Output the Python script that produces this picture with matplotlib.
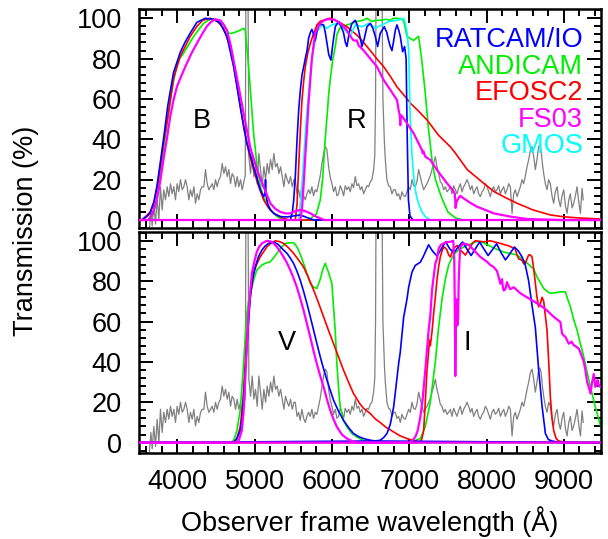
import matplotlib.pyplot as plt
import numpy as np
from matplotlib.ticker import MultipleLocator

plt.rcParams['font.family'] = ['Liberation Sans', 'DejaVu Sans']

# ---- data (wavelength in Angstrom, transmission in %) ----
# object spectrum (scaled), same in both panels
spec_wl = [3640, 3660, 3677, 3698, 3720, 3741, 3763, 3784, 3806, 3827, 3849, 3871, 3892, 3914, 3935, 3957,
           3978, 4000, 4021, 4043, 4065, 4086, 4108, 4129, 4151, 4172, 4194, 4216, 4237, 4259, 4280, 4302,
           4323, 4345, 4366, 4388, 4410, 4431, 4453, 4474, 4496, 4517, 4539, 4560, 4582, 4604, 4625, 4647,
           4668, 4690, 4711, 4733, 4755, 4776, 4798, 4819, 4841, 4862, 4880, 4893, 4905, 4915, 4927, 4949,
           4970, 4992, 5013, 5035, 5056, 5078, 5099, 5121, 5143, 5164, 5186, 5207, 5229, 5250, 5272, 5294,
           5315, 5337, 5358, 5380, 5401, 5423, 5444, 5466, 5488, 5510, 5527, 5550, 5570, 5590, 5613, 5635,
           5656, 5678, 5699, 5720, 5742, 5763, 5785, 5806, 5828, 5850, 5872, 5893, 5915, 5936, 5958, 5980,
           6001, 6022, 6044, 6066, 6087, 6109, 6130, 6152, 6173, 6195, 6217, 6238, 6260, 6281, 6303, 6325,
           6346, 6368, 6389, 6411, 6432, 6454, 6475, 6497, 6518, 6540, 6555, 6565, 6575, 6600, 6630, 6648,
           6660, 6669, 6680, 6691, 6712, 6734, 6755, 6777, 6798, 6820, 6841, 6863, 6885, 6906, 6928, 6950,
           6971, 6993, 7014, 7036, 7057, 7079, 7100, 7122, 7144, 7165, 7187, 7208, 7230, 7251, 7273, 7295,
           7316, 7338, 7359, 7381, 7402, 7424, 7446, 7467, 7489, 7510, 7532, 7553, 7575, 7596, 7618, 7640,
           7661, 7683, 7704, 7726, 7747, 7769, 7791, 7812, 7834, 7855, 7877, 7898, 7920, 7942, 7963, 7985,
           8006, 8028, 8049, 8071, 8092, 8114, 8135, 8157, 8179, 8200, 8222, 8243, 8265, 8287, 8308, 8330,
           8351, 8372, 8394, 8416, 8437, 8459, 8480, 8502, 8524, 8545, 8567, 8588, 8610, 8631, 8652, 8674,
           8690, 8705, 8722, 8739, 8760, 8782, 8803, 8825, 8846, 8868, 8890, 8912, 8933, 8955, 8976, 8998,
           9020, 9041, 9063, 9084, 9106, 9127, 9149, 9170, 9192, 9214, 9235, 9250]
spec_flux = [-5, 5, -3, 8, -2, 11.6, 0, 16.5, 5, 15, 10, 16.5, 11.6, 18, 13, 16.5,
             10, 18, 14, 20, 15, 16.5, 20, 16.5, 10, 15, 11.6, 16.5, 8.3, 13, 10, 15,
             16.5, 16.5, 25, 18, 15, 16.5, 18, 15, 20, 16.5, 20, 21.5, 28, 23, 26.4, 21.5,
             25, 18, 23, 21.5, 16.5, 21.5, 16.5, 20, 15, 19, 22, 160, 200, 120, 31.4, 23,
             33, 21.5, 26.4, 18, 33, 25, 16.5, 26.4, 20, 28, 23, 30, 25, 33, 26.4, 28,
             23, 26.4, 21.5, 16.5, 23, 20, 18, 21.5, 16.5, 20, 20, 13, 15, 11, 16.5, 12,
             10, 13, 15, 13, 16.5, 12, 15, 14, 18, 22, 28, 33, 36.4, 35, 26.4, 21,
             18, 14, 16.5, 12, 13, 17, 15, 12, 17, 15, 16.5, 14, 18, 16, 21.5, 17,
             18, 15, 16.5, 13, 15, 17, 16.5, 19, 20, 25, 32, 60, 150, 250, 200, 120,
             60, 49.6, 38, 30, 20, 17, 16.5, 13, 15, 15, 12, 13, 10, 14, 12, 11.6,
             14, 16.5, 15, 20, 17, 16.5, 19, 25, 21.5, 18, 15, 16.5, 18, 20, 22, 25,
             28, 31.4, 26.4, 23, 19, 18, 15, 16.5, 14, 15, 16.5, 13, 17, 15, 13, 16,
             18, 14, 16.5, 18, 20, 18, 15, 17, 13, 15, 16.5, 13, 11.6, 14, 15, 18,
             16.5, 14, 11.6, 15, 16.5, 14, 15, 17, 13, 15, 16.5, 13, 15, 18, 16.5, 3.3,
             13, 15, 11.6, 14, 16.5, 20, 18, 22, 26.4, 30, 34.7, 36.4, 31.4, 25, 30, 36.4,
             37, 34.7, 28, 23, 18, 15, 20, 18, 12, 8.3, 14, 16.5, 10, 6.6, 12, 15,
             7, 3.3, 10, 13, 6, 8.3, 12, 16.5, 9, 3.3, 15.7, 10]

# ---- top panel: B and R ----
b_ratcam_wl = [3500, 3543, 3600, 3650, 3700, 3737, 3780, 3823, 3880, 3952, 4039, 4100, 4168, 4255, 4363, 4471,
               4557, 4643, 4730, 4816, 4902, 4988, 5075, 5118, 5135, 5142, 5150, 5170, 5204, 5260, 5334, 5420,
               5500, 5593, 5680, 5765, 9480]
b_ratcam_tr = [0, 0, 1.5, 3.3, 9, 16.5, 28, 40, 57, 73, 83, 88, 92.6, 98, 100, 99.5,
               97.5, 91, 76, 56, 38, 26.5, 15, 11.6, 13, 20, 12, 8, 5, 3, 1.7, 1.5,
               2, 2.5, 1.2, 0, 0]
b_efosc_wl = [3500, 3540, 3600, 3650, 3700, 3750, 3823, 3900, 3952, 4039, 4168, 4255, 4330, 4428, 4520, 4600,
              4686, 4770, 4859, 4930, 4988, 5050, 5118, 5180, 5248, 5377, 5450, 9480]
b_efosc_tr = [0, 0, 2, 4, 9, 18, 38, 56, 70, 81, 91, 96, 99, 100, 98.5, 95,
              86, 68, 46, 33, 25, 17, 10, 6, 3.3, 0.8, 0, 0]
b_andicam_wl = [3500, 3650, 3700, 3737, 3780, 3823, 3870, 3909, 3960, 3996, 4040, 4082, 4150, 4212, 4280, 4341,
                4428, 4500, 4557, 4620, 4665, 4700, 4780, 4859, 4881, 4900, 4924, 4955, 4988, 5030, 5075, 5120,
                5161, 5230, 5291, 5377, 9480]
b_andicam_tr = [0, 0, 4, 11.6, 22, 35, 48, 59.5, 70, 77.7, 80.5, 82.6, 87, 91, 94.5, 97.5,
                99.5, 99.5, 98.3, 96, 92.6, 92.5, 93.5, 95, 94, 86, 76, 60, 43, 28, 16.5, 11,
                8.3, 4, 1.7, 0, 0]
b_fs03_wl = [3500, 3628, 3680, 3737, 3780, 3823, 3870, 3909, 3950, 3996, 4060, 4125, 4190, 4255, 4320, 4384,
             4440, 4492, 4557, 4600, 4643, 4690, 4730, 4790, 4859, 4945, 5032, 5118, 5204, 5270, 5334, 5400,
             5463, 5520, 5593, 5650, 5722, 5790, 5852, 5900, 9480]
b_fs03_tr = [0, 0, 3, 10, 19, 30, 41, 51, 59, 66, 72, 77.7, 83, 87.6, 92, 96,
             98.3, 99.5, 99, 97, 94, 87, 79, 67, 53, 36, 25, 16.5, 8.3, 5.5, 4, 3.3,
             3.3, 4.3, 5, 4.5, 3.3, 1.8, 0.8, 0, 0]

r_ratcam_wl = [3500, 5463, 5490, 5507, 5528, 5550, 5572, 5593, 5614, 5636, 5656, 5679, 5699, 5722, 5742, 5765,
               5785, 5805, 5828, 5860, 5893, 5915, 5937, 5960, 5988, 6015, 6044, 6087, 6120, 6152, 6175, 6195,
               6225, 6260, 6303, 6325, 6346, 6368, 6389, 6420, 6454, 6497, 6530, 6562, 6592, 6626, 6678, 6710,
               6734, 6755, 6777, 6800, 6820, 6842, 6865, 6885, 6915, 6940, 6960, 6975, 6990, 7010, 7050, 9480]
r_ratcam_tr = [0, 0, 4, 10, 22, 40, 55, 64.5, 72, 76, 80, 84, 90, 93, 94.5, 92,
               89, 93, 96.7, 97, 96.7, 93, 87.6, 82, 79.3, 88, 95.8, 98.4, 96, 92.6, 88, 86,
               93, 97.5, 99, 97, 94, 90, 86, 90, 95.8, 97.5, 95, 91, 86, 92.6, 95.8, 93,
               89, 86, 84, 89, 94, 96.7, 94, 91, 83.4, 86, 80, 40, 10, 2, 0, 0]
r_efosc_wl = [3500, 5528, 5550, 5571, 5593, 5614, 5636, 5657, 5690, 5722, 5760, 5807, 5850, 5893, 5940, 5980,
              6044, 6120, 6195, 6260, 6324, 6410, 6497, 6580, 6670, 6760, 6842, 6930, 7014, 7120, 7230, 7380,
              7532, 7600, 7750, 7963, 8100, 8250, 8395, 8600, 8826, 9000, 9200, 9480]
r_efosc_tr = [0, 0, 8, 26.5, 45, 59.5, 69, 76, 83, 87.6, 92, 96.7, 98.5, 99, 99.7, 100,
              99, 97.5, 95.8, 93.7, 91.7, 88, 84, 80, 76, 71, 66, 62, 58, 54, 49.6, 42,
              36.3, 33, 25, 18.2, 14, 11, 8.3, 5, 2.5, 1.6, 1, 0.5]
r_gmos_wl = [3500, 5571, 5592, 5614, 5636, 5657, 5680, 5700, 5720, 5742, 5807, 5840, 5872, 5905, 5937, 5970,
             6001, 6066, 6110, 6152, 6195, 6238, 6270, 6303, 6389, 6430, 6476, 6520, 6562, 6605, 6648, 6690,
             6734, 6790, 6842, 6890, 6928, 6950, 6975, 6993, 7014, 7036, 7057, 7079, 7100, 7122, 7165, 7208,
             7273, 9480]
r_gmos_tr = [0, 0, 8, 18, 30, 43, 55, 63, 72, 80, 93.4, 95, 96.7, 96, 95, 96,
             96.7, 97.5, 96.5, 95, 93, 91, 94, 96.7, 95.8, 96.5, 97.5, 96.5, 95, 96, 96.7, 97.5,
             98.4, 98.7, 99, 99.5, 100, 97.5, 92, 84, 50, 32, 22, 15, 11, 8, 4, 1.7,
             0, 0]
r_fs03_wl = [3500, 5593, 5615, 5636, 5657, 5679, 5699, 5722, 5742, 5765, 5785, 5820, 5850, 5893, 5937, 6022,
             6066, 6109, 6150, 6195, 6240, 6281, 6324, 6346, 6411, 6497, 6583, 6670, 6756, 6842, 6863, 6878,
             6885, 6890, 6906, 6971, 7057, 7144, 7165, 7175, 7185, 7208, 7273, 7359, 7489, 7560, 7590, 7600,
             7612, 7640, 7661, 7704, 7790, 7877, 8049, 8092, 8308, 8524, 8955, 9480]
r_fs03_tr = [0, 0, 6, 18, 32, 45, 58, 70, 80, 87, 92.6, 95.5, 97.5, 98.8, 99.5, 99.5,
             98.5, 97.5, 96, 94, 91, 89, 89, 86.6, 84, 80, 76, 69.4, 64.5, 59.5, 54.5, 52,
             47, 52, 51.5, 48, 43, 36.3, 34.7, 33, 34, 31.4, 29.8, 24.8, 18.2, 15, 13, 6,
             9, 11, 12, 10.7, 8.5, 6.6, 4, 3.3, 1.7, 0.5, 0, 0]
r_andicam_wl = [3500, 5700, 5750, 5800, 5850, 5880, 5910, 5937, 5958, 5980, 6010, 6044, 6066, 6109, 6195, 6260,
                6324, 6400, 6454, 6519, 6570, 6626, 6700, 6756, 6798, 6842, 6900, 6928, 6950, 6971, 7014, 7057,
                7100, 7122, 7160, 7200, 7250, 7300, 7340, 7420, 7500, 7600, 7700, 9480]
r_andicam_tr = [0, 0, 1.5, 3, 10, 20, 38, 51, 62, 70, 79, 86, 92, 95.5, 96.7, 97.5,
                98.4, 99, 100, 98.4, 99, 99, 99.5, 99, 100, 100, 99.5, 98.8, 95, 91, 90, 89,
                90.5, 91, 80, 66, 45, 28, 20, 11, 4, 1, 0, 0]

# ---- bottom panel: V and I ----
v_ratcam_wl = [3500, 4729, 4772, 4815, 4838, 4858, 4880, 4901, 4923, 4944, 4975, 5009, 5050, 5095, 5140, 5181,
               5246, 5311, 5360, 5419, 5462, 5505, 5548, 5591, 5634, 5677, 5720, 5764, 5807, 5850, 5893, 5936,
               5979, 6022, 6087, 6151, 6215, 6280, 6345, 6410, 6497, 6560, 9480]
v_ratcam_tr = [0, 0, 2, 6, 12, 22.6, 35, 47.5, 60, 72, 81, 87, 92, 95.4, 97.5, 98.7,
               99.5, 98, 96, 93.8, 91.5, 88.8, 85, 80.5, 75, 69, 62.5, 55.7, 49, 42.5, 36.5, 31,
               26, 21, 15.5, 11, 7.5, 4.5, 3, 2, 1.2, 0.8, 0]
v_efosc_wl = [3500, 4729, 4772, 4815, 4850, 4880, 4901, 4923, 4955, 4987, 5030, 5073, 5117, 5160, 5214, 5268,
              5322, 5376, 5440, 5505, 5570, 5634, 5700, 5764, 5830, 5893, 5958, 6022, 6087, 6151, 6215, 6280,
              6367, 6410, 6497, 6560, 6626, 6700, 6798, 6880, 6971, 7060, 7144, 9480]
v_efosc_tr = [0, 0, 2, 7.8, 20, 39, 52, 64, 75, 84, 88.5, 92, 94.5, 97, 98.8, 100,
              99.6, 98.7, 96.5, 93.8, 90.5, 87, 81.5, 75.6, 69, 62.3, 55.5, 49, 42.4, 35.9, 30, 24.3,
              19, 17, 14.4, 11.8, 9.9, 7.6, 5.3, 3.4, 2, 1, 0.4, 0]
v_fs03_wl = [3500, 4772, 4800, 4836, 4858, 4880, 4901, 4923, 4945, 4966, 5000, 5030, 5060, 5095, 5160, 5225,
             5289, 5333, 5376, 5420, 5462, 5505, 5548, 5591, 5634, 5677, 5720, 5763, 5806, 5850, 5893, 5936,
             5979, 6022, 6065, 6130, 6194, 6260, 6323, 9480]
v_fs03_tr = [0, 0, 1.5, 6, 15, 31, 48, 64, 75, 84, 90, 94.6, 97, 98.7, 100, 99.5,
             97, 94.6, 92, 89, 85.5, 81.5, 77, 71.5, 65.6, 59, 52.4, 45.5, 39, 33, 27.6, 21.5,
             16, 11.5, 7.8, 4, 2, 0.8, 0, 0]
v_andicam_wl = [3500, 4707, 4740, 4772, 4815, 4836, 4858, 4880, 4901, 4930, 4966, 5000, 5030, 5095, 5150, 5203,
                5246, 5289, 5340, 5397, 5450, 5505, 5540, 5569, 5600, 5634, 5677, 5720, 5764, 5806, 5850, 5880,
                5914, 5960, 6000, 6020, 6043, 6065, 6087, 6108, 6150, 6194, 6260, 6323, 6400, 6496, 9480]
v_andicam_tr = [0, 0, 2, 6, 16, 27, 39, 52, 64, 72, 77, 82, 85.5, 88, 89, 89.6,
                91.5, 93.8, 96.5, 98.7, 99, 99, 97.5, 95.4, 92.5, 88.8, 84, 78.9, 77, 76.4, 81, 85.5,
                88.8, 84, 78.9, 68, 55.7, 39, 27, 17.7, 11, 7.8, 4.5, 2.8, 1.2, 0, 0]

i_ratcam_wl = [3500, 6560, 6626, 6670, 6712, 6755, 6799, 6830, 6863, 6885, 6928, 6971, 6993, 7036, 7079, 7144,
               7180, 7208, 7251, 7300, 7360, 7415, 7470, 7525, 7580, 7635, 7690, 7745, 7800, 7855, 7910, 7965,
               8020, 8075, 8130, 8190, 8245, 8300, 8360, 8410, 8460, 8502, 8545, 8588, 8631, 8674, 8718, 8761,
               8800, 8847, 8955, 9480]
i_ratcam_tr = [0, 0.8, 1.2, 2.5, 4.5, 9, 17.7, 28, 39, 45, 62, 71, 77, 84.5, 87.8, 89.4,
               92, 94.4, 98, 95, 92.4, 96, 99.5, 96, 94, 97, 99.4, 96, 92.7, 96, 99.4, 96,
               92.7, 95.5, 98.5, 94, 90.5, 93.5, 96.9, 95, 92, 87.8, 80, 68, 57, 36, 18, 4.5,
               1.5, 0.8, 0, 0]
i_efosc_wl = [3500, 7100, 7144, 7165, 7187, 7208, 7230, 7251, 7262, 7273, 7295, 7316, 7338, 7359, 7380, 7402,
              7425, 7446, 7467, 7489, 7510, 7532, 7553, 7575, 7618, 7661, 7700, 7726, 7760, 7791, 7823, 7855,
              7963, 8049, 8178, 8286, 8370, 8394, 8416, 8459, 8480, 8502, 8523, 8545, 8566, 8588, 8610, 8631,
              8652, 8674, 8696, 8718, 8739, 8760, 8782, 8804, 8825, 8847, 8868, 8900, 8933, 9041, 9480]
i_efosc_tr = [0, 0, 0.4, 2, 6, 20, 35.9, 45, 50.8, 48, 55, 64, 72, 80.5, 87, 92,
              95, 97, 96.5, 95.4, 93, 92, 94, 96.2, 97.7, 95.4, 94, 92.9, 95, 97, 99, 100,
              99.5, 100, 98.7, 97.5, 96, 93, 91, 90.4, 88.6, 88.8, 91, 93, 93, 92, 86, 79,
              72, 67.3, 69, 72, 70, 63, 55.7, 40, 22.6, 12, 6, 2, 0.8, 0, 0]
i_fs03_wl = [3500, 7014, 7079, 7110, 7144, 7175, 7208, 7230, 7251, 7273, 7295, 7316, 7338, 7359, 7381, 7410,
             7446, 7489, 7532, 7570, 7583, 7590, 7596, 7602, 7609, 7622, 7632, 7640, 7650, 7661, 7704, 7769,
             7834, 7920, 8006, 8049, 8092, 8135, 8157, 8179, 8200, 8211, 8222, 8243, 8265, 8286, 8308, 8351,
             8437, 8523, 8610, 8696, 8782, 8868, 8930, 8955, 8976, 9000, 9019, 9063, 9100, 9127, 9160, 9192,
             9235, 9257, 9278, 9300, 9321, 9343, 9365, 9386, 9400, 9407, 9422, 9437, 9455, 9480]
i_fs03_tr = [0, 0, 2.8, 6, 12.7, 22, 35.9, 46, 55.7, 63, 75.6, 82, 88.8, 91, 96.2, 98,
             98.7, 99.4, 99.5, 100, 90, 66, 33, 55, 71, 58, 62, 79.5, 90, 97, 98.7, 98,
             95.4, 92, 89.6, 88, 87, 85, 82, 78.7, 81, 77, 75.4, 76, 79.5, 77.5, 76, 77,
             74, 72, 70, 68, 65.5, 62.3, 60.5, 59.7, 54, 53, 52.4, 49, 50, 48.3, 47.5, 46.6,
             42.5, 40, 35.9, 30, 27.6, 24.3, 30, 34, 30, 27.6, 29, 31, 28, 27.6]
i_andicam_wl = [3500, 7014, 7060, 7100, 7144, 7208, 7273, 7338, 7380, 7424, 7467, 7510, 7553, 7596, 7661, 7747,
                7877, 7963, 8092, 8180, 8265, 8394, 8523, 8610, 8653, 8700, 8739, 8782, 8825, 8900, 8955, 9019,
                9050, 9084, 9127, 9170, 9213, 9257, 9300, 9343, 9407, 9472, 9480]
i_andicam_tr = [0, 0.3, 0.8, 1.5, 2, 8, 20, 40, 57, 71, 81, 88, 91.5, 94, 96, 97.7,
                99.7, 99, 96.5, 95, 94, 93, 89, 86, 82, 79, 76.4, 75, 74, 74.3, 74.7, 74.7,
                71, 67.3, 61, 55.7, 49, 42.5, 35, 27.6, 17.7, 8.6, 8]

# labels
instruments = ['RATCAM/IO', 'ANDICAM', 'EFOSC2', 'FS03', 'GMOS']
inst_colors = ['#0000ff', '#00ee00', '#ff0000', '#ff00ff', '#00ffff']
band_top = ['B', 'R']
band_top_pos = [(4319, 45.5), (6325, 45.5)]
band_bot = ['V', 'I']
band_bot_pos = [(5419, 45.8), (7752, 45.8)]

BLUE, GREEN, RED, MAG, CYAN = inst_colors[0], inst_colors[1], inst_colors[2], inst_colors[3], inst_colors[4]

fig = plt.figure(figsize=(6.08, 5.39), dpi=100)
ax1 = fig.add_axes([0.2278, 0.5761, 0.7607, 0.4072])
ax2 = fig.add_axes([0.2278, 0.1601, 0.7607, 0.4104])

def style(ax, ylim):
    ax.set_xlim(3500, 9480)
    ax.set_ylim(*ylim)
    ax.xaxis.set_major_locator(MultipleLocator(1000))
    ax.xaxis.set_minor_locator(MultipleLocator(200))
    ax.yaxis.set_major_locator(MultipleLocator(20))
    ax.yaxis.set_minor_locator(MultipleLocator(4))
    ax.tick_params(which='both', direction='in', top=True, right=True, width=1.4, labelsize=19.5, pad=12)
    ax.tick_params(which='major', length=10)
    ax.tick_params(which='minor', length=5)
    for s in ax.spines.values():
        s.set_linewidth(1.8)

lw = 1.2
# top panel
ax1.plot(spec_wl, spec_flux, color='#808080', lw=0.9, zorder=1)
ax1.plot(b_andicam_wl, b_andicam_tr, color=GREEN, lw=lw, zorder=2)
ax1.plot(r_andicam_wl, r_andicam_tr, color=GREEN, lw=lw, zorder=2)
ax1.plot(b_efosc_wl, b_efosc_tr, color=RED, lw=lw, zorder=3)
ax1.plot(r_efosc_wl, r_efosc_tr, color=RED, lw=lw, zorder=3)
ax1.plot(r_gmos_wl, r_gmos_tr, color=CYAN, lw=lw, zorder=4)
ax1.plot(b_ratcam_wl, b_ratcam_tr, color=BLUE, lw=lw, zorder=4)
ax1.plot(r_ratcam_wl, r_ratcam_tr, color=BLUE, lw=lw, zorder=4)
ax1.plot(b_fs03_wl, b_fs03_tr, color=MAG, lw=1.6, zorder=5)
ax1.plot(r_fs03_wl, r_fs03_tr, color=MAG, lw=1.6, zorder=5)
style(ax1, (-4.2, 104.6))
ax1.tick_params(labelbottom=False)

for name, col, yb in zip(instruments, inst_colors, [85.8, 72.4, 59.5, 46.3, 33.1]):
    ax1.text(9249, yb, name, color=col, fontsize=19.5, ha='right', va='baseline', zorder=6)
for lab, (bx, by) in zip(band_top, band_top_pos):
    ax1.text(bx, by, lab, fontsize=19.5, ha='center', va='baseline')

# bottom panel
ax2.plot(spec_wl, spec_flux, color='#808080', lw=0.9, zorder=1)
ax2.plot(v_andicam_wl, v_andicam_tr, color=GREEN, lw=lw, zorder=2)
ax2.plot(i_andicam_wl, i_andicam_tr, color=GREEN, lw=lw, zorder=2)
ax2.plot(v_efosc_wl, v_efosc_tr, color=RED, lw=lw, zorder=3)
ax2.plot(i_efosc_wl, i_efosc_tr, color=RED, lw=lw, zorder=3)
ax2.plot(v_ratcam_wl, v_ratcam_tr, color=BLUE, lw=lw, zorder=4)
ax2.plot(i_ratcam_wl, i_ratcam_tr, color=BLUE, lw=lw, zorder=4)
ax2.plot(v_fs03_wl, v_fs03_tr, color=MAG, lw=1.6, zorder=5)
ax2.plot(i_fs03_wl, i_fs03_tr, color=MAG, lw=1.6, zorder=5)
style(ax2, (-5.0, 104.6))
for lab, (bx, by) in zip(band_bot, band_bot_pos):
    ax2.text(bx, by, lab, fontsize=19.5, ha='center', va='baseline')

ax2.set_xlabel('Observer frame wavelength (Å)', fontsize=19.5, labelpad=8)
fig.text(0.042, 1 - 230.5 / 539, 'Transmission (%)', fontsize=19.5, rotation=90, ha='center', va='center')

fig.savefig('out.png', dpi=100)
